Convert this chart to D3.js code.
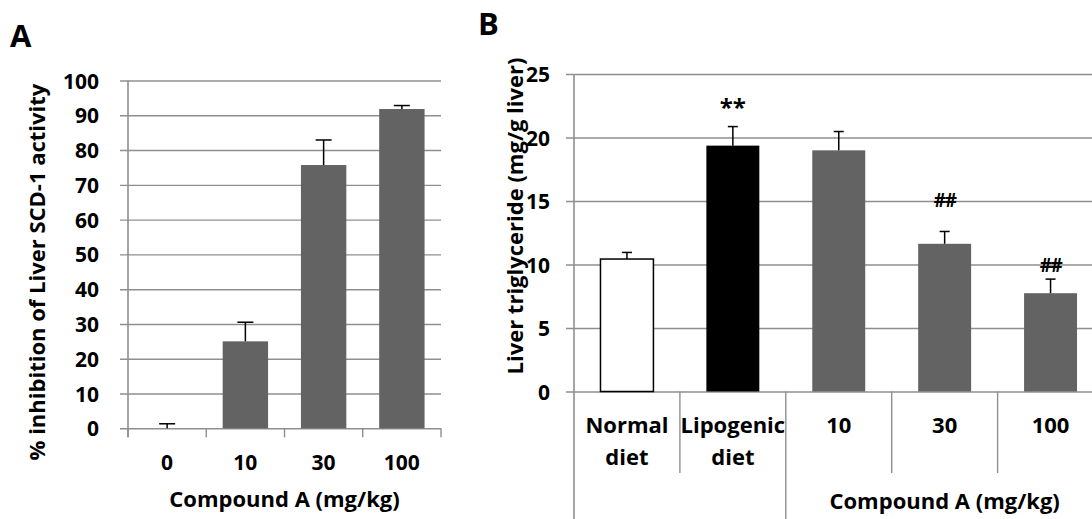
<!DOCTYPE html>
<html>
<head>
<meta charset="utf-8">
<script src="https://cdn.jsdelivr.net/npm/d3@7"></script>
<style>
  html, body { margin: 0; padding: 0; background: #fff; }
  svg { display: block; font-family: "Open Sans", "Lato", sans-serif; font-weight: 700; }
</style>
</head>
<body>
<div id="chart"></div>
<script>
// panel A: SCD-1 inhibition
const doseA = ["0", "10", "30", "100"];
const inhibitionA = [0, 25.0, 75.7, 91.8];
const inhibitionErrA = [1.3, 5.5, 7.2, 1.0];
const ticksA = [0, 10, 20, 30, 40, 50, 60, 70, 80, 90, 100];

// panel B: liver triglyceride
const groupsB = ["Normal diet", "Lipogenic diet", "10", "30", "100"];
const parentB = ["", "", "Compound A (mg/kg)", "Compound A (mg/kg)", "Compound A (mg/kg)"];
const trigB = [10.43, 19.36, 18.99, 11.63, 7.74];
const trigErrB = [0.52, 1.5, 1.48, 0.97, 1.11];
const sigB = ["", "**", "", "##", "##"];
const sigLevelB = [null, 22.75, null, 15.05, 9.97];
const ticksB = [0, 5, 10, 15, 20, 25];

const width = 1092;
const height = 519;
const gridColor = "#8f8f8f";
const barGray = "#636363";
const font = "Open Sans";
const tickSize = 21;
const labelSize = 22;

const svg = d3.select("#chart")
  .append("svg")
  .attr("width", width)
  .attr("height", height);

drawPanelA();
drawPanelB();

function drawPanelA() {
  const left = 128, right = 441, top = 80.5, bottom = 428.3;
  const x = d3.scaleBand().domain(doseA).range([left, right]);
  const y = d3.scaleLinear().domain([0, 100]).range([bottom, top]);
  const barW = x.bandwidth() * 0.58;
  const g = svg.append("g");

  g.append("text")
    .attr("x", 10)
    .attr("y", 47)
    .attr("font-size", 31)
    .text("A");

  // gridlines + tick labels
  g.append("g")
    .attr("transform", `translate(${left - 8},0)`)
    .call(d3.axisLeft(y).tickValues(ticksA).tickSize(-(right - left + 8)).tickPadding(21))
    .call((a) => a.select(".domain").remove())
    .call((a) => a.selectAll("line").attr("stroke", gridColor).attr("stroke-width", 1.4))
    .call((a) => a.selectAll("text")
      .attr("font-size", tickSize)
      .attr("font-family", font)
      .attr("font-weight", 700)
      .attr("fill", "#000")
      .attr("dy", "0.36em"));

  g.append("line")
    .attr("x1", left).attr("x2", left)
    .attr("y1", top).attr("y2", bottom + 9)
    .attr("stroke", gridColor).attr("stroke-width", 1.6);

  // category tick marks at band edges
  g.append("g")
    .selectAll("line")
    .data([...doseA.map((d) => x(d)), right])
    .join("line")
    .attr("x1", (d) => d).attr("x2", (d) => d)
    .attr("y1", bottom).attr("y2", bottom + 9)
    .attr("stroke", gridColor).attr("stroke-width", 1.4);

  g.append("g")
    .selectAll("rect")
    .data(doseA)
    .join("rect")
    .attr("x", (d) => x(d) + (x.bandwidth() - barW) / 2)
    .attr("y", (d, i) => y(inhibitionA[i]))
    .attr("width", barW)
    .attr("height", (d, i) => y(0) - y(inhibitionA[i]))
    .attr("fill", barGray);

  drawErrors(g, doseA, x, y, inhibitionA, inhibitionErrA, 16);

  g.append("g")
    .selectAll("text")
    .data(doseA)
    .join("text")
    .attr("x", (d) => x(d) + x.bandwidth() / 2)
    .attr("y", 470)
    .attr("text-anchor", "middle")
    .attr("font-size", tickSize)
    .text((d) => d);

  g.append("text")
    .attr("x", (left + right) / 2)
    .attr("y", 507)
    .attr("text-anchor", "middle")
    .attr("font-size", labelSize)
    .text("Compound A (mg/kg)");

  g.append("text")
    .attr("transform", "translate(45,272) rotate(-90)")
    .attr("text-anchor", "middle")
    .attr("font-size", labelSize)
    .text("% inhibition of Liver SCD-1 activity");
}

function drawPanelB() {
  const left = 574, right = 1103.5, top = 74, bottom = 391.5;
  const x = d3.scaleBand().domain(groupsB).range([left, right]);
  const y = d3.scaleLinear().domain([0, 25]).range([bottom, top]);
  const barW = x.bandwidth() * 0.5;
  const g = svg.append("g");

  g.append("text")
    .attr("x", 478)
    .attr("y", 35)
    .attr("font-size", 31)
    .text("B");

  g.append("g")
    .attr("transform", `translate(${left - 8},0)`)
    .call(d3.axisLeft(y).tickValues(ticksB).tickSize(-(right - left + 8)).tickPadding(16))
    .call((a) => a.select(".domain").remove())
    .call((a) => a.selectAll("line").attr("stroke", gridColor).attr("stroke-width", 1.4))
    .call((a) => a.selectAll("text")
      .attr("font-size", tickSize)
      .attr("font-family", font)
      .attr("font-weight", 700)
      .attr("fill", "#000")
      .attr("dy", "0.36em"));

  // separators between categories; long where the parent group changes
  const edges = groupsB.map((d, i) => ({
    x: x(d),
    long: i === 0 || parentB[i] !== parentB[i - 1]
  }));
  edges.push({ x: right, long: true });

  g.append("g")
    .selectAll("line")
    .data(edges)
    .join("line")
    .attr("x1", (d) => d.x).attr("x2", (d) => d.x)
    .attr("y1", (d, i) => (i === 0 ? top : bottom))
    .attr("y2", (d) => (d.long ? height : 473))
    .attr("stroke", gridColor)
    .attr("stroke-width", (d, i) => (i === 0 ? 1.6 : 1.4));

  const fills = ["#ffffff", "#000000", barGray, barGray, barGray];
  g.append("g")
    .selectAll("rect")
    .data(groupsB)
    .join("rect")
    .attr("x", (d) => x(d) + (x.bandwidth() - barW) / 2)
    .attr("y", (d, i) => y(trigB[i]))
    .attr("width", barW)
    .attr("height", (d, i) => y(0) - y(trigB[i]))
    .attr("fill", (d, i) => fills[i])
    .attr("stroke", (d, i) => (i === 0 ? "#000" : "none"))
    .attr("stroke-width", 1.5);

  drawErrors(g, groupsB, x, y, trigB, trigErrB, 10);

  g.append("g")
    .selectAll("text")
    .data(groupsB.filter((d, i) => sigB[i]))
    .join("text")
    .attr("x", (d) => x(d) + x.bandwidth() / 2)
    .attr("y", (d) => y(sigLevelB[groupsB.indexOf(d)]))
    .attr("dy", (d) => (sigB[groupsB.indexOf(d)] === "**" ? "0.55em" : "0.36em"))
    .attr("text-anchor", "middle")
    .attr("font-size", (d) => (sigB[groupsB.indexOf(d)] === "**" ? 24 : 19))
    .attr("font-weight", 700)
    .attr("letter-spacing", (d) => (sigB[groupsB.indexOf(d)] === "**" ? 0 : -1.5))
    .text((d) => sigB[groupsB.indexOf(d)]);

  // category labels, split over two lines where needed
  const labels = g.append("g")
    .selectAll("text")
    .data(groupsB)
    .join("text")
    .attr("x", (d) => x(d) + x.bandwidth() / 2)
    .attr("y", 433)
    .attr("text-anchor", "middle")
    .attr("font-size", labelSize);
  labels.each(function (d) {
    const words = d.split(" ");
    const t = d3.select(this);
    words.forEach((w, k) => {
      t.append("tspan")
        .attr("x", x(d) + x.bandwidth() / 2)
        .attr("dy", k === 0 ? 0 : 32)
        .text(w);
    });
  });

  const parents = Array.from(new Set(parentB.filter((p) => p)));
  g.append("g")
    .selectAll("text")
    .data(parents)
    .join("text")
    .attr("x", (p) => {
      const members = groupsB.filter((d, i) => parentB[i] === p);
      return (x(members[0]) + x(members[members.length - 1]) + x.bandwidth()) / 2;
    })
    .attr("y", 509)
    .attr("text-anchor", "middle")
    .attr("font-size", labelSize)
    .text((p) => p);

  g.append("text")
    .attr("transform", "translate(523,216) rotate(-90)")
    .attr("text-anchor", "middle")
    .attr("font-size", labelSize)
    .text("Liver triglyceride (mg/g liver)");
}

function drawErrors(g, cats, x, y, values, errs, cap) {
  const eg = g.append("g").attr("stroke", "#000").attr("stroke-width", 1.5);
  cats.forEach((d, i) => {
    const cx = x(d) + x.bandwidth() / 2;
    eg.append("line")
      .attr("x1", cx).attr("x2", cx)
      .attr("y1", y(values[i])).attr("y2", y(values[i] + errs[i]));
    eg.append("line")
      .attr("x1", cx - cap / 2).attr("x2", cx + cap / 2)
      .attr("y1", y(values[i] + errs[i])).attr("y2", y(values[i] + errs[i]));
  });
}
</script>
</body>
</html>
